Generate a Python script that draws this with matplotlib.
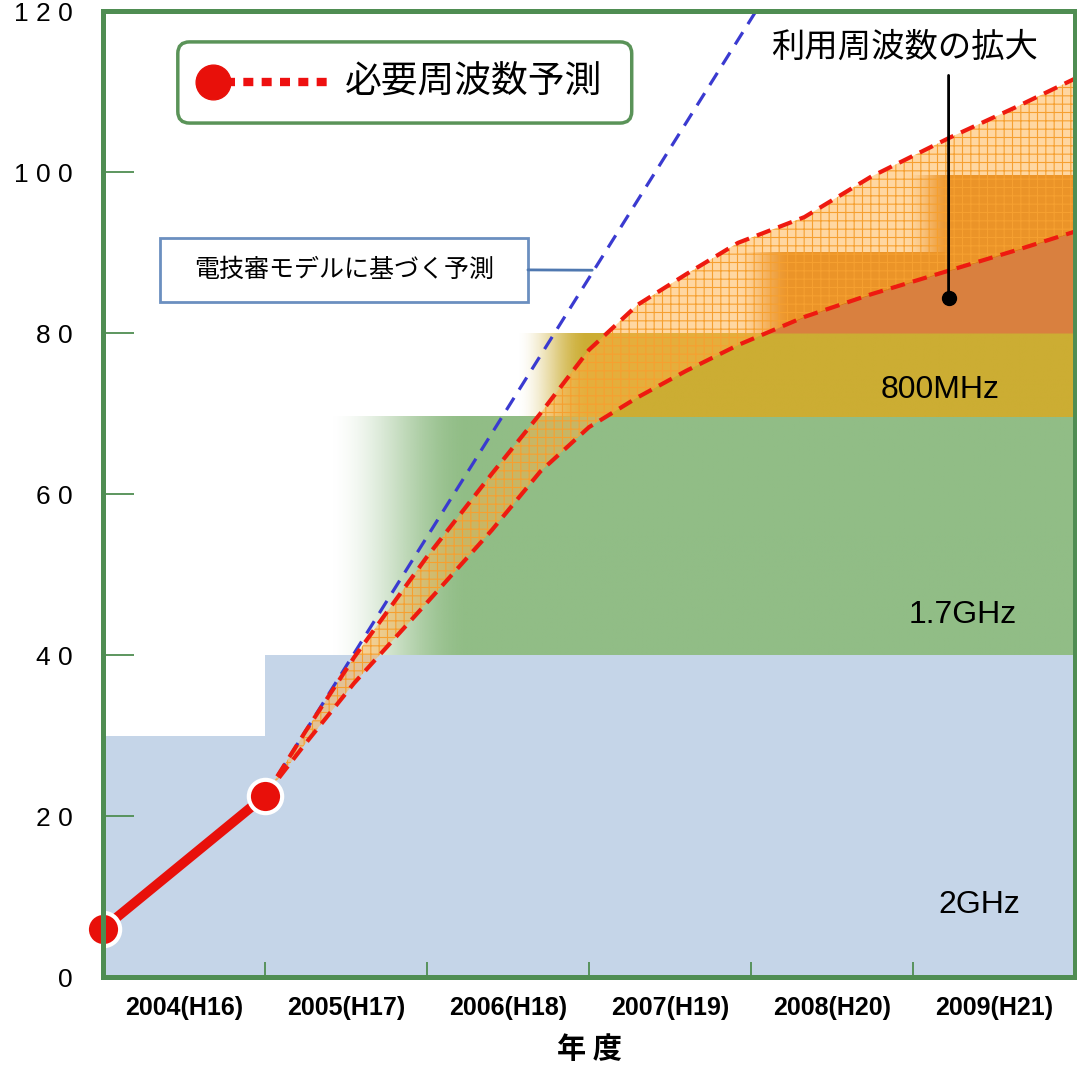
import numpy as np
import matplotlib
matplotlib.use("Agg")
import matplotlib.pyplot as plt
from matplotlib.colors import to_rgb
from matplotlib.patches import FancyBboxPatch, Rectangle
from matplotlib.lines import Line2D

plt.rcParams['font.family'] = ['Liberation Sans', 'Noto Sans CJK JP', 'DejaVu Sans']
plt.rcParams['hatch.linewidth'] = 0.8
JP = ['Noto Sans CJK JP', 'DejaVu Sans']

# --- data ---
years = ['2004(H16)', '2005(H17)', '2006(H18)', '2007(H19)', '2008(H20)', '2009(H21)']
ytick_vals = [0, 20, 40, 60, 80, 100, 120]
ytick_labels = ['0', '2 0', '4 0', '6 0', '8 0', '1 0 0', '1 2 0']

# actual (solid red)
act_x = [0.0, 1.0]
act_y = [6.0, 22.5]

# forecast range (red dashed upper / lower)
fc_x = [1.0, 1.25, 1.55, 2.0, 2.4, 2.7, 3.0, 3.3, 3.6, 3.92, 4.33, 4.74, 5.23, 5.64, 6.0]
fc_upper = [22.5, 30.5, 39.7, 52.2, 62.5, 70.0, 77.9, 83.5, 87.3, 91.2, 94.4, 99.4, 104.3, 108.1, 111.6]
fc_lower = [22.5, 29.0, 36.5, 46.5, 55.5, 62.8, 68.3, 72.0, 75.3, 78.5, 82.0, 84.8, 87.8, 90.3, 92.6]

# 電技審モデル (blue dashed)
model_x = [1.0, 4.1]
model_y = [22.5, 122.2]

# 2GHz band steps
ghz2_left = [0, 1]
ghz2_width = [1, 5]
ghz2_top = [30, 40]

# other bands: (start, full, bottom, top)
band_17 = (1.38, 2.25, 40, 69.6)
band_800 = (2.55, 3.0, 69.6, 80)
band_ext1 = (3.92, 4.25, 80, 90)
band_ext2 = (4.95, 5.25, 90, 99.6)

fig = plt.figure(figsize=(10.77, 10.68), dpi=100)
ax = fig.add_axes([0.0956, 0.0852, 0.9025, 0.9045])
ax.set_xlim(0, 6)
ax.set_ylim(0, 120)


def grad_band(b, color, z=1):
    x0, xf, y0, y1 = b
    xs = np.linspace(x0, 6, 600)
    t = np.clip((xs - x0) / (xf - x0), 0, 1)
    t = t * t * (3 - 2 * t)
    img = np.zeros((1, len(xs), 4))
    img[..., :3] = to_rgb(color)
    img[0, :, 3] = t
    ax.imshow(img, extent=(x0, 6, y0, y1), aspect='auto',
              interpolation='bilinear', zorder=z)


ax.bar(ghz2_left, ghz2_top, width=ghz2_width, align='edge', color='#c5d5e8', zorder=1)
grad_band(band_17, '#91bd86')
grad_band(band_800, '#ccad33')
grad_band(band_ext1, '#d8780c')
grad_band(band_ext2, '#d8780c')

fx = np.array(fc_x)
lo = np.array(fc_lower)
up = np.array(fc_upper)
ax.fill_between(fx, lo, up, facecolor=(1.0, 0.69, 0.27, 0.5),
                edgecolor='#f6a030', hatch='++', linewidth=0, zorder=2)
ax.fill_between(fx, 80, lo, where=lo >= 80, interpolate=True,
                color='#d9803f', linewidth=0, zorder=2.5)

ax.plot(model_x, model_y, color='#3a3ad0', lw=2.3, dashes=(4.5, 3), zorder=4)
ax.plot(fc_x, fc_upper, color='#ee1a10', lw=3, dashes=(3.5, 2), zorder=4)
ax.plot(fc_x, fc_lower, color='#ee1a10', lw=3, dashes=(3.5, 2), zorder=4)
ax.plot(act_x, act_y, color='#e8100a', lw=7, solid_capstyle='butt', zorder=5,
        marker='o', ms=24, mfc='#e8100a', mec='white', mew=3, clip_on=False)

# band labels
ax.text(5.17, 72.9, '800MHz', fontsize=23, ha='center', va='center', zorder=6)
ax.text(5.31, 45.0, '1.7GHz', fontsize=23, ha='center', va='center', zorder=6)
ax.text(5.41, 8.9, '2GHz', fontsize=23, ha='center', va='center', zorder=6)

# legend box
ax.add_patch(FancyBboxPatch((0.077, 0.884), 0.467, 0.084, transform=ax.transAxes,
                            boxstyle='round,pad=0,rounding_size=0.012',
                            fc='white', ec='#5a9358', lw=2.5, zorder=7))
ax.add_line(Line2D([0.1255, 0.2315], [0.926, 0.926], transform=ax.transAxes,
                   color='#ee1010', lw=6, dashes=(1.2, 1), zorder=8))
ax.add_line(Line2D([0.1132], [0.926], transform=ax.transAxes, marker='o',
                   ms=25, mfc='#e8100a', mec='#e8100a', zorder=9))
ax.text(0.249, 0.926, '必要周波数予測', transform=ax.transAxes, fontsize=26.5,
        family=JP, va='center', ha='left', zorder=9)

# model annotation box
ax.add_patch(Rectangle((0.0586, 0.699), 0.3786, 0.066, transform=ax.transAxes,
                       fc='white', ec='#6b8fc0', lw=2, zorder=7))
ax.text(0.248, 0.732, '電技審モデルに基づく予測', transform=ax.transAxes, fontsize=18,
        family=JP, va='center', ha='center', zorder=8)
ax.annotate('', xy=(3.02, 87.8), xytext=(0.4372, 0.732), textcoords='axes fraction',
            arrowprops=dict(arrowstyle='-', color='#4f78b0', lw=2,
                            shrinkA=0, shrinkB=0), zorder=8)

# 利用周波数の拡大
ax.text(0.825, 0.962, '利用周波数の拡大', transform=ax.transAxes, fontsize=24,
        family=JP, va='center', ha='center', zorder=8)
ax.annotate('', xy=(5.22, 84.3), xytext=(5.22, 112.0),
            arrowprops=dict(arrowstyle='-', color='black', lw=2,
                            shrinkA=0, shrinkB=0), zorder=8)
ax.plot([5.22], [84.3], 'o', color='black', ms=10, zorder=8)

# axes styling
for s in ax.spines.values():
    s.set_color('#4f8d52')
    s.set_linewidth(3.6)
    s.set_zorder(10)

ax.set_yticks(ytick_vals)
ax.set_yticklabels(ytick_labels, fontsize=19)
ax.tick_params(axis='y', direction='in', length=22, width=1.3, color='#4f8d52', pad=22)

ax.set_xticks(np.arange(6) + 0.5)
ax.set_xticklabels(years, fontsize=18, fontweight='bold')
ax.set_xticks(np.arange(1, 6), minor=True)
ax.tick_params(axis='x', which='major', length=0, pad=14)
ax.tick_params(axis='x', which='minor', direction='in', length=11, width=1.3, color='#4f8d52')
ax.set_xlabel('年 度', fontsize=21, fontweight='bold', family=JP, labelpad=10)

fig.savefig('out.png', dpi=100)
